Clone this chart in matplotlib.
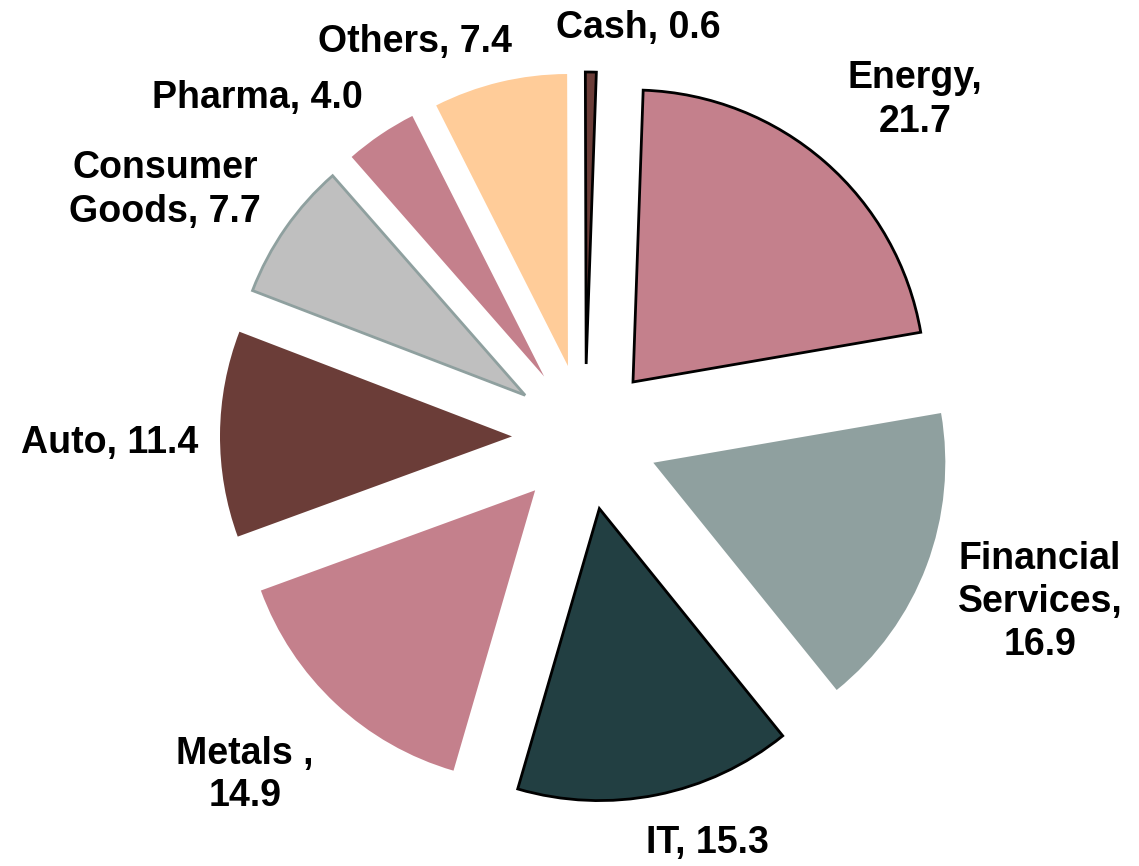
import matplotlib
matplotlib.use("Agg")
import matplotlib.pyplot as plt

# sector allocation (%)
sectors = ["Energy", "Financial Services", "IT", "Metals", "Auto",
           "Consumer Goods", "Pharma", "Others", "Cash"]
weights = [21.7, 16.9, 15.3, 14.9, 11.4, 7.7, 4.0, 7.4, 0.6]
label_text = ["Energy,\n21.7", "Financial\nServices,\n16.9", "IT, 15.3",
              "Metals ,\n14.9", "Auto, 11.4", "Consumer\nGoods, 7.7",
              "Pharma, 4.0", "Others, 7.4", "Cash, 0.6"]

colors = ["#C4808C", "#8FA09F", "#223F42", "#C4808C", "#6B3D38",
          "#BFBFBF", "#C4808C", "#FFCC99", "#6B3D38"]
edges = ["black", "none", "black", "none", "none",
         "#8FA09F", "none", "none", "black"]

# label centres in pixels (x from left, y from top)
label_px = [(915, 100), (1040, 602), (707, 843), (245, 775), (110, 443),
            (165, 190), (257, 98), (415, 42), (638, 28)]

W, H = 1139, 866
R = 292.0          # pie radius in px
cx, cy = 585, 437  # pie centre in px

fig = plt.figure(figsize=(W / 100, H / 100), dpi=100)
ax = fig.add_axes([0, 0, 1, 1])

wedges, _ = ax.pie(weights, colors=colors, startangle=88, counterclock=False,
                   explode=[0.25] * len(weights), radius=1.0)
for w, ec in zip(wedges, edges):
    if ec == "none":
        w.set_edgecolor("none")
        w.set_linewidth(0)
    else:
        w.set_edgecolor(ec)
        w.set_linewidth(2.0)

ax.set_xlim(-cx / R, (W - cx) / R)
ax.set_ylim(-(H - cy) / R, cy / R)
ax.set_aspect("auto")
ax.axis("off")

for txt, (px, py) in zip(label_text, label_px):
    fig.text(px / W, 1 - py / H, txt, ha="center", va="center",
             multialignment="center", fontsize=27, fontweight="bold",
             family="Liberation Sans", linespacing=1.25)

fig.savefig("out.png", dpi=100)
